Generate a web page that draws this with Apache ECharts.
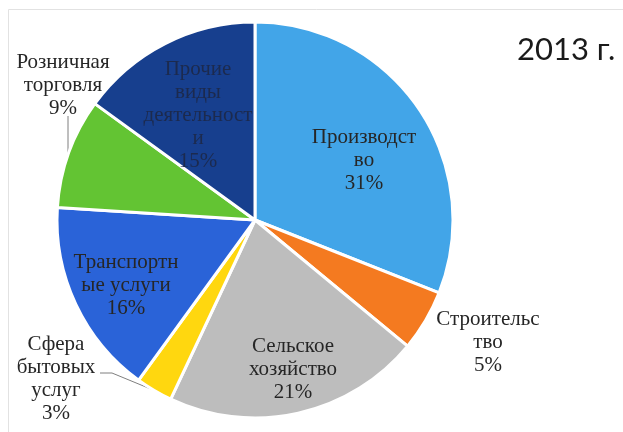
<!DOCTYPE html>
<html><head><meta charset="utf-8">
<script src="https://cdn.jsdelivr.net/npm/echarts@6/dist/echarts.min.js"></script>
<style>html,body{margin:0;padding:0;background:#fff}#c{width:623px;height:432px}</style>
</head><body><div id="c"></div>
<script>
const categories = ['Производство','Строительство','Сельское хозяйство','Сфера бытовых услуг','Транспортные услуги','Розничная торговля','Прочие виды деятельности'];
const labelTexts = ['Производст\nво','Строительс\nтво','Сельское\nхозяйство','Сфера\nбытовых\nуслуг','Транспортн\nые услуги','Розничная\nторговля','Прочие\nвиды\nдеятельност\nи'];
const values = [31, 5, 21, 3, 16, 9, 15];
const colors = ['#42A5E8','#F47A20','#BDBDBD','#FFD70F','#2A63D8','#63C433','#173F8E'];
const titleText = '2013 г.';

const labelCenters = [[364,160],[488,342],[293,369],[56,379],[126,285],[63,85],[198,115]];
const outside = [false,true,false,true,false,true,false];
const SERIF = 'Liberation Serif';

const chart = echarts.init(document.getElementById('c'));
const data = values.map((v,i)=>({
  name: categories[i], value: v,
  itemStyle:{color: colors[i]},
  label:{position: outside[i] ? 'outside' : 'inside', color: i===6 ? '#1c2a4e' : '#262626'},
  labelLine:{show: i===3 || i===5}
}));
chart.setOption({
  animation:false,
  textStyle:{fontFamily:SERIF},
  graphic:[{type:'rect', shape:{x:8.5,y:9.5,width:700,height:500}, style:{fill:'none', stroke:'#e2e2e2', lineWidth:1}, silent:true}],
  title:{text:titleText, left:512, top:29, textStyle:{fontFamily:'Lato', fontSize:31, fontWeight:'normal', color:'#1a1a1a'}},
  series:[{
    type:'pie', center:[255,220], radius:198, startAngle:90, clockwise:true,
    itemStyle:{borderColor:'#fff', borderWidth:3},
    label:{show:true, fontFamily:SERIF, fontSize:21, lineHeight:23, align:'center', overflow:'none',
      formatter:(p)=>labelTexts[p.dataIndex]+'\n'+p.percent.toFixed(0)+'%'},
    labelLine:{lineStyle:{color:'#7f7f7f', width:1}, length:10, length2:10},
    labelLayout:(p)=>{
      const i = p.dataIndex;
      const c = labelCenters[i];
      const r = {x:c[0], y:c[1], align:'center', verticalAlign:'middle'};
      if (i===5 && p.labelLinePoints) {
        const e = p.labelLinePoints[0];
        r.labelLinePoints = [[e[0],e[1]],[68,e[1]],[68,116]];
      }
      if (i===3 && p.labelLinePoints) {
        const e = p.labelLinePoints[0];
        r.labelLinePoints = [[e[0],e[1]],[112,373],[100,373]];
      }
      return r;
    },
    data:data
  }]
});
</script></body></html>
